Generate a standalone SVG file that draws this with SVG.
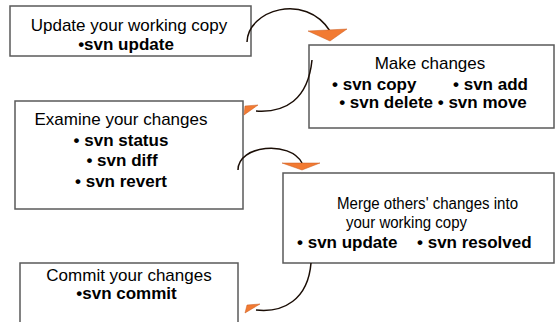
<svg xmlns="http://www.w3.org/2000/svg" width="556" height="322" viewBox="0 0 556 322">
<style>
.box{fill:#fff;stroke:#5a5a5a;stroke-width:1.5}
text{font-family:"Liberation Sans",Arial,sans-serif;fill:#000}
.n{font-size:17px}
.s{font-size:16px}
.b{font-size:17px;font-weight:bold}
.m{text-anchor:middle}
.c{fill:none;stroke:#1a0d05;stroke-width:1.5}
.h{fill:#f27a32;stroke:#c85a1e;stroke-width:0.5}
</style>
<rect width="556" height="322" fill="#fff"/>
<g id="n1">
<rect class="box" x="10" y="6" width="241" height="50"/>
<text class="n m" x="129" y="31">Update your working copy</text>
<text class="b m" x="126" y="50">•svn update</text>
</g>
<g id="n2">
<rect class="box" x="309" y="45" width="245" height="83"/>
<text class="n m" x="430" y="69">Make changes</text>
<text class="b" x="332" y="90">• svn copy</text>
<text class="b" x="453" y="90">• svn add</text>
<text class="b m" x="433" y="108">• svn delete • svn move</text>
</g>
<g id="n3">
<rect class="box" x="15" y="101" width="228" height="108"/>
<text class="n m" x="121" y="125">Examine your changes</text>
<text class="b m" x="121" y="146">• svn status</text>
<text class="b m" x="122" y="166">• svn diff</text>
<text class="b m" x="121" y="187">• svn revert</text>
</g>
<g id="n4">
<rect class="box" x="283" y="173" width="271" height="90"/>
<text class="s" x="337" y="209" textLength="181" lengthAdjust="spacingAndGlyphs">Merge others' changes into</text>
<text class="s" x="346" y="228" textLength="121" lengthAdjust="spacingAndGlyphs">your working copy</text>
<text class="b" x="297" y="248">• svn update</text>
<text class="b" x="417" y="248">• svn resolved</text>
</g>
<g id="n5">
<rect class="box" x="20" y="263" width="218" height="70"/>
<text class="n m" x="129" y="281">Commit your changes</text>
<text class="b m" x="126.5" y="299">•svn commit</text>
</g>
<g id="connectors">
<path class="c" d="M247,42 C248,10 305,-8 330,31"/>
<polygon class="h" points="308,31 347,29 330,41"/>
<path class="c" d="M312,60 C308,100 285,113 256,111"/>
<polygon class="h" points="245,106 258,105 244,115"/>
<path class="c" d="M238,170 C238,145 290,140 302,163"/>
<polygon class="h" points="282,163 320,163 302,170"/>
<path class="c" d="M311,263 C308,300 283,313 256,310"/>
<polygon class="h" points="247,305 260,304 245,313"/>
</g>
</svg>
